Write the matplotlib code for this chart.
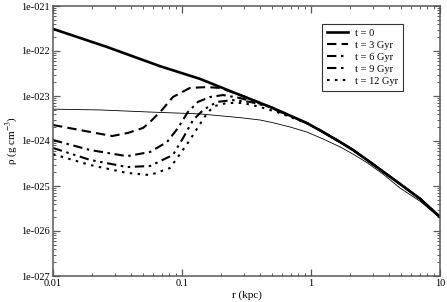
import matplotlib
matplotlib.use("Agg")
import matplotlib.pyplot as plt
from matplotlib.ticker import FixedLocator, LogLocator, NullFormatter

plt.rcParams["font.family"] = ["Liberation Serif", "DejaVu Serif"]
plt.rcParams["mathtext.fontset"] = "stix"

# density profiles (r in kpc, rho in g cm^-3)
r_t0 = [0.01, 0.0262, 0.0675, 0.138, 0.282, 0.507, 0.93, 1.24, 1.68, 2.12,
        2.87, 3.61, 4.9, 7.0, 10]
rho_t0 = [3.1e-22, 1.23e-22, 4.6e-23, 2.4e-23, 1.05e-23, 5.4e-24, 2.5e-24,
          1.58e-24, 9.5e-25, 6.3e-25, 3.4e-25, 2.1e-25, 1.11e-25, 5.2e-26,
          2.05e-26]

r_core = [0.01, 0.0231, 0.0565, 0.138, 0.282, 0.403, 0.507, 0.687, 0.93, 1.24,
          1.68, 2.12, 2.72, 3.61, 4.9, 7.0, 10]
rho_core = [5.1e-24, 4.9e-24, 4.4e-24, 4.0e-24, 3.3e-24, 2.93e-24, 2.55e-24,
            2.05e-24, 1.58e-24, 1.11e-24, 7.4e-25, 5.1e-25, 3.3e-25, 1.85e-25,
            9.0e-26, 4.6e-26, 1.95e-26]

r_t3 = [0.01, 0.0162, 0.0287, 0.0381, 0.0499, 0.0565, 0.07, 0.0851, 0.115,
        0.156, 0.197, 0.297, 0.507, 0.93, 1.24, 1.68, 2.12, 2.87, 3.61, 4.9,
        7.0, 10]
rho_t3 = [2.27e-24, 1.75e-24, 1.29e-24, 1.51e-24, 1.95e-24, 2.64e-24, 4.9e-24,
          9.5e-24, 1.51e-23, 1.58e-23, 1.51e-23, 1.0e-23, 5.4e-24, 2.5e-24,
          1.58e-24, 9.5e-25, 6.3e-25, 3.4e-25, 2.1e-25, 1.11e-25, 5.2e-26,
          2.05e-26]

r_t6 = [0.01, 0.0194, 0.0375, 0.0565, 0.0766, 0.0931, 0.111, 0.133, 0.165,
        0.208, 0.282, 0.44, 0.93, 1.24, 1.68, 2.12, 2.87, 3.61, 4.9, 7.0, 10]
rho_t6 = [1.05e-24, 6.3e-25, 4.6e-25, 5.7e-25, 9.5e-25, 1.95e-24, 4.4e-24,
          7.4e-24, 9.5e-24, 1.05e-23, 9.0e-24, 6.3e-24, 2.5e-24, 1.58e-24,
          9.5e-25, 6.3e-25, 3.4e-25, 2.1e-25, 1.11e-25, 5.2e-26, 2.05e-26]

r_t9 = [0.01, 0.0194, 0.0375, 0.0565, 0.0851, 0.102, 0.122, 0.146, 0.187,
        0.248, 0.337, 0.481, 0.575, 0.93, 1.24, 1.68, 2.12, 2.87, 3.61, 4.9,
        7.0, 10]
rho_t9 = [7.0e-25, 3.8e-25, 2.64e-25, 2.78e-25, 4.9e-25, 1.17e-24, 2.93e-24,
          4.9e-24, 7.4e-24, 8.1e-24, 7.4e-24, 5.7e-24, 4.4e-24, 2.5e-24,
          1.58e-24, 9.5e-25, 6.3e-25, 3.4e-25, 2.1e-25, 1.11e-25, 5.2e-26,
          2.05e-26]

r_t12 = [0.01, 0.0194, 0.0375, 0.0565, 0.0807, 0.0964, 0.115, 0.138, 0.159,
         0.18, 0.223, 0.297, 0.403, 0.544, 0.93, 1.24, 1.68, 2.12, 2.87, 3.61,
         4.9, 7.0, 10]
rho_t12 = [5.1e-25, 2.93e-25, 1.95e-25, 1.75e-25, 2.51e-25, 5.1e-25, 1.05e-24,
           2.39e-24, 4.4e-24, 6.0e-24, 7.0e-24, 7.0e-24, 5.7e-24, 4.4e-24,
           2.5e-24, 1.58e-24, 9.5e-25, 6.3e-25, 3.4e-25, 2.1e-25, 1.11e-25,
           5.2e-26, 2.05e-26]

x_ticks = [0.01, 0.1, 1, 10]
x_labels = ["0.01", "0.1", "1", "10"]
y_ticks = [1e-27, 1e-26, 1e-25, 1e-24, 1e-23, 1e-22, 1e-21]
y_labels = ["1e-027", "1e-026", "1e-025", "1e-024", "1e-023", "1e-022", "1e-021"]

fig = plt.figure(figsize=(4.47, 3.02), dpi=100)
ax = fig.add_axes([53 / 447, 1 - 276 / 302, 387 / 447, 270 / 302])

ax.plot(r_core, rho_core, color="black", lw=0.6)
ax.plot(r_t0, rho_t0, color="black", lw=1.9, label="t = 0")
ax.plot(r_t3, rho_t3, color="black", lw=1.5, dashes=(4.5, 2.5), label="t = 3 Gyr")
ax.plot(r_t6, rho_t6, color="black", lw=1.5, dashes=(4.5, 2.2, 1.2, 2.2),
        label="t = 6 Gyr")
ax.plot(r_t9, rho_t9, color="black", lw=1.5,
        dashes=(4.5, 2.2, 1.2, 2.2, 1.2, 2.2), label="t = 9 Gyr")
ax.plot(r_t12, rho_t12, color="black", lw=1.5, dashes=(1.2, 2.6), label="t = 12 Gyr")

ax.set_xscale("log")
ax.set_yscale("log")
ax.set_xlim(0.01, 10)
ax.set_ylim(1e-27, 1e-21)

ax.xaxis.set_major_locator(FixedLocator(x_ticks))
ax.set_xticklabels(x_labels)
ax.yaxis.set_major_locator(FixedLocator(y_ticks))
ax.set_yticklabels(y_labels)
ax.xaxis.set_minor_locator(LogLocator(base=10, subs=range(2, 10)))
ax.yaxis.set_minor_locator(LogLocator(base=10, subs=range(2, 10)))
ax.xaxis.set_minor_formatter(NullFormatter())
ax.yaxis.set_minor_formatter(NullFormatter())

ax.tick_params(which="both", direction="in", top=True, right=True,
               labelsize=7.5, color="0.35")
ax.tick_params(which="major", length=5, width=0.9, pad=2)
ax.tick_params(which="minor", length=2.5, width=0.7)
for s in ax.spines.values():
    s.set_linewidth(1.1)
    s.set_color("0.35")

ax.set_xlabel("r (kpc)", fontsize=8, labelpad=2)
ax.set_ylabel("ρ (g cm$^{-3}$)", fontsize=8, labelpad=1)

leg = ax.legend(loc="upper right", bbox_to_anchor=(0.905, 0.935), fontsize=7.5,
                frameon=True, fancybox=False, handlelength=2.0,
                handletextpad=0.7, labelspacing=0.25, borderpad=0.5,
                borderaxespad=0)
leg.get_frame().set_edgecolor("black")
leg.get_frame().set_linewidth(0.8)

fig.savefig("out.png", dpi=100)
